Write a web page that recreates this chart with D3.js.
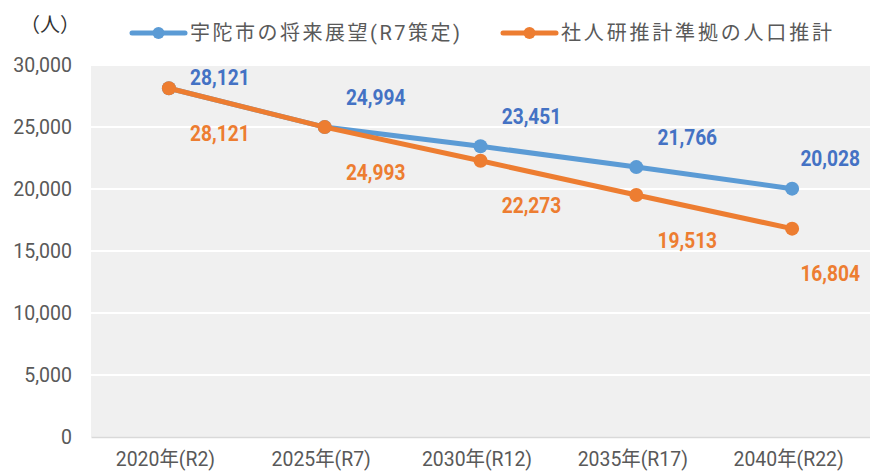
<!DOCTYPE html>
<html>
<head>
<meta charset="utf-8">
<script src="https://cdn.jsdelivr.net/npm/d3@7"></script>
<style>
  body { margin: 0; background: #fff; }
  text { font-family: Roboto, "Noto Sans CJK JP", sans-serif; }
</style>
</head>
<body>
<div id="chart"></div>
<script>
// data
const categories = ["2020年(R2)", "2025年(R7)", "2030年(R12)", "2035年(R17)", "2040年(R22)"];
const seriesNames = ["宇陀市の将来展望(R7策定)", "社人研推計準拠の人口推計"];
const cityPlan = [28121, 24994, 23451, 21766, 20028];
const ipssEstimate = [28121, 24993, 22273, 19513, 16804];
const yTicks = [0, 5000, 10000, 15000, 20000, 25000, 30000];

const width = 870;
const height = 474;
const margin = { top: 65, right: 0, bottom: 37, left: 91 };

const svg = d3.select("#chart")
    .append("svg")
    .attr("width", width)
    .attr("height", height);

// squeeze text horizontally (reference font is narrow)
function squeeze(sel, k) {
    sel.each(function() {
        const w = this.getComputedTextLength();
        d3.select(this)
            .attr("textLength", w * k)
            .attr("lengthAdjust", "spacingAndGlyphs");
    });
}

// scales
const x = d3.scalePoint()
    .domain(categories)
    .range([margin.left, width - margin.right])
    .padding(0.5);

const y = d3.scaleLinear()
    .domain([0, 30000])
    .range([height - margin.bottom, margin.top]);

// plot background
svg.append("rect")
    .attr("x", margin.left)
    .attr("y", margin.top)
    .attr("width", width - margin.right - margin.left)
    .attr("height", height - margin.bottom - margin.top)
    .attr("fill", "#f0f0f0");

// gridlines
svg.append("g")
    .selectAll("line")
    .data(yTicks.slice(1))
    .join("line")
    .attr("x1", margin.left)
    .attr("x2", width - margin.right)
    .attr("y1", d => y(d))
    .attr("y2", d => y(d))
    .attr("stroke", "#ffffff")
    .attr("stroke-width", 2);

// y axis
const yAxis = svg.append("g")
    .attr("transform", `translate(${margin.left - 19}, 0)`)
    .call(d3.axisLeft(y).tickValues(yTicks).tickFormat(d3.format(",")).tickSize(0).tickPadding(0));
yAxis.select(".domain").remove();
yAxis.selectAll("text")
    .attr("fill", "#595959")
    .style("font-size", "21px")
    .call(squeeze, 0.93);

// x axis
const xAxis = svg.append("g")
    .attr("transform", `translate(0, ${height - margin.bottom})`)
    .call(d3.axisBottom(x).tickSize(0).tickPadding(15));
xAxis.select(".domain")
    .attr("stroke", "#d9d9d9")
    .attr("stroke-width", 1.5);
xAxis.selectAll("text")
    .attr("fill", "#595959")
    .attr("dx", -4)
    .style("font-size", "20px")
    .call(squeeze, 0.97);

// unit label
svg.append("text")
    .attr("x", 50)
    .attr("y", 32)
    .attr("text-anchor", "middle")
    .attr("fill", "#333")
    .style("font-size", "20px")
    .text("（人）");

const series = [
    { name: seriesNames[0], values: cityPlan, color: "#5b9bd5", labelColor: "#4472c4", dy: -30 },
    { name: seriesNames[1], values: ipssEstimate, color: "#ed7d31", labelColor: "#ed7d31", dy: 45 }
];

const line = d3.line()
    .x((d, i) => x(categories[i]))
    .y(d => y(d));

series.forEach(s => {
    const g = svg.append("g");
    g.append("path")
        .datum(s.values)
        .attr("fill", "none")
        .attr("stroke", s.color)
        .attr("stroke-width", 5)
        .attr("d", line);
    g.selectAll("circle")
        .data(s.values)
        .join("circle")
        .attr("cx", (d, i) => x(categories[i]))
        .attr("cy", d => y(d))
        .attr("r", 7)
        .attr("fill", s.color);
});

// data labels (drawn after lines)
series.forEach(s => {
    svg.append("g")
        .selectAll("text")
        .data(s.values)
        .join("text")
        .attr("text-anchor", "middle")
        .attr("dominant-baseline", "central")
        .attr("fill", s.labelColor)
        .style("font-size", "22px")
        .style("font-weight", "bold")
        .text(d => d3.format(",")(d))
        .call(squeeze, 0.87)
        .each(function(d, i) {
            const w = +d3.select(this).attr("textLength");
            let cx = x(categories[i]) + 51;
            let cy = y(d) + s.dy;
            if (cx + w / 2 > width - 10) cx = width - 10 - w / 2;
            if (cy - 9 < margin.top + 3) cy = margin.top + 12;
            d3.select(this).attr("x", cx).attr("y", cy);
        });
});

// legend
const legendItems = [
    { x: 132, textLen: 270 },
    { x: 503, textLen: 271 }
];
series.forEach((s, i) => {
    const lg = svg.append("g")
        .attr("transform", `translate(${legendItems[i].x}, 33)`);
    lg.append("line")
        .attr("x1", 0).attr("x2", 53)
        .attr("stroke", s.color)
        .attr("stroke-width", 5)
        .attr("stroke-linecap", "round");
    lg.append("circle")
        .attr("cx", 26.5)
        .attr("r", 6)
        .attr("fill", s.color);
    lg.append("text")
        .attr("x", 58)
        .attr("dy", "0.35em")
        .attr("fill", "#595959")
        .attr("textLength", legendItems[i].textLen)
        .attr("lengthAdjust", "spacing")
        .style("font-size", "20px")
        .text(s.name);
});
</script>
</body>
</html>
